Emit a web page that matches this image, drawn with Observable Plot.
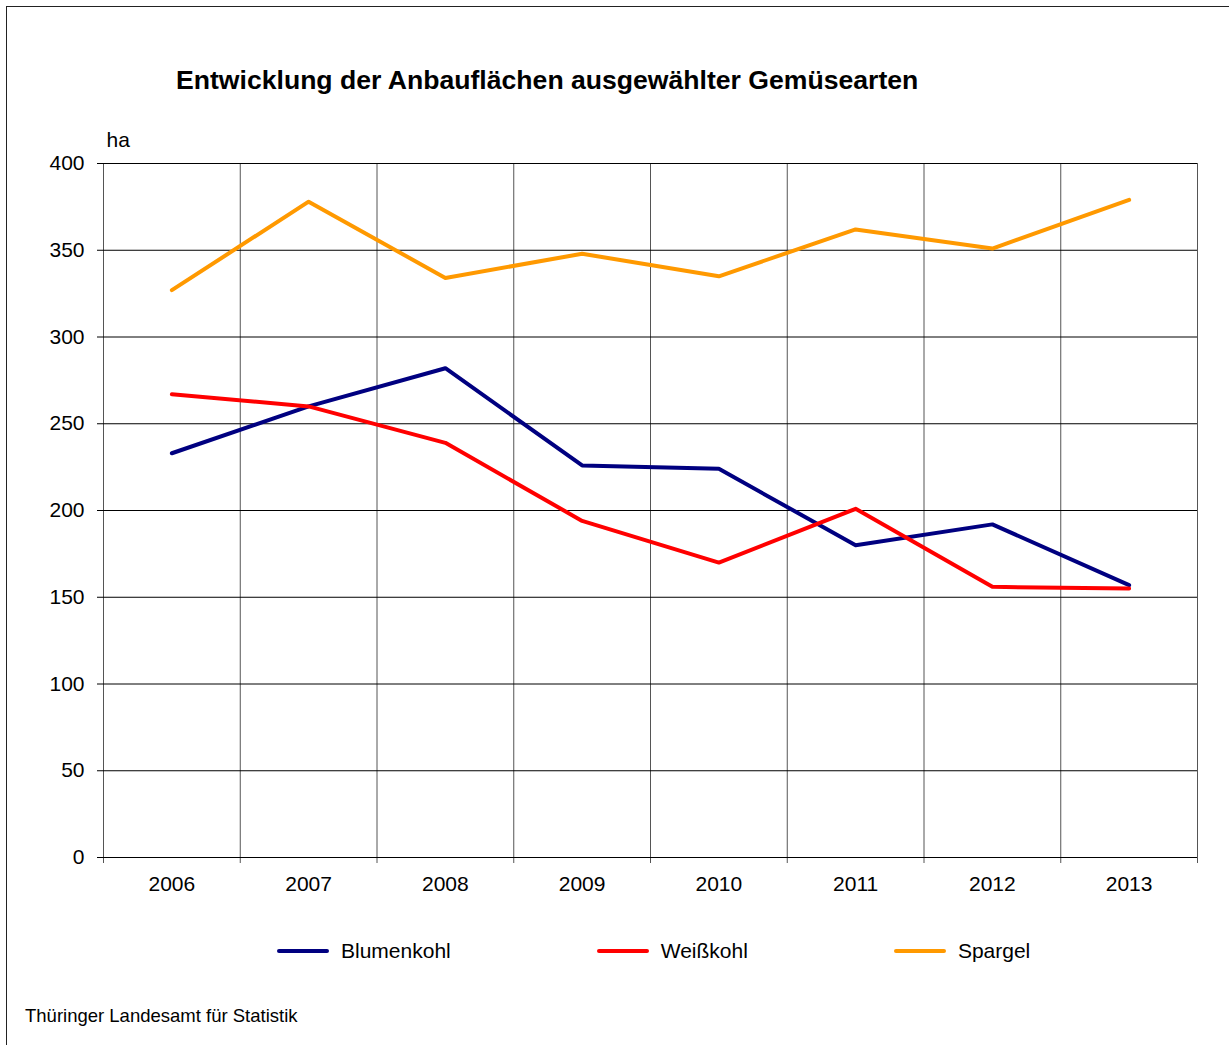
<!DOCTYPE html>
<html>
<head>
<meta charset="utf-8">
<script src="https://cdn.jsdelivr.net/npm/d3@7"></script>
<script src="https://cdn.jsdelivr.net/npm/@observablehq/plot@0.6"></script>
<style>
  html, body { margin: 0; padding: 0; background: #fff; }
  body { width: 1229px; height: 1045px; overflow: hidden; position: relative; font-family: "Liberation Sans", Arial, sans-serif; color: #000; }
  #frame { position: absolute; left: 6px; top: 6px; width: 1300px; height: 1100px; border: 1px solid #222; pointer-events: none; }
  #title { height: 110px; box-sizing: border-box; padding-top: 65px; padding-left: 176px; font-size: 26.6px; line-height: 30px; font-weight: bold; }
  #chart svg { display: block; }
  #legend { margin-top: 32px; padding-left: 277px; display: flex; align-items: center; gap: 146px; font-size: 21px; line-height: 24px; }
  #legend .item { display: flex; align-items: center; gap: 12px; }
  #legend svg { display: block; }
  #caption { position: absolute; left: 25px; top: 1006px; font-size: 18.5px; line-height: 20px; }
</style>
</head>
<body>
<div id="frame"></div>
<div id="title">Entwicklung der Anbauflächen ausgewählter Gemüsearten</div>
<div id="chart"></div>
<div id="legend"></div>
<div id="caption">Thüringer Landesamt für Statistik</div>
<script>
const years = [2006, 2007, 2008, 2009, 2010, 2011, 2012, 2013];
const blumenkohl = [233, 260, 282, 226, 224, 180, 192, 157];
const weisskohl = [267, 260, 239, 194, 170, 201, 156, 155];
const spargel = [327, 378, 334, 348, 335, 362, 351, 379];
const seriesNames = ["Blumenkohl", "Weißkohl", "Spargel"];
const seriesColors = ["#000080", "#FF0000", "#FF9900"];
const yTicks = [0, 50, 100, 150, 200, 250, 300, 350, 400];
const yUnit = "ha";

const seriesValues = [blumenkohl, weisskohl, spargel];
const data = [];
seriesNames.forEach((name, i) => {
  years.forEach((yr, j) => data.push({series: name, year: yr, value: seriesValues[i][j]}));
});
const boundaries = [years[0] - 0.5, ...years.map(y => y + 0.5)];

const chart = Plot.plot({
  width: 1229,
  height: 797,
  marginTop: 53,
  marginBottom: 50,
  marginLeft: 103,
  marginRight: 32,
  style: {fontFamily: "'Liberation Sans', Arial, sans-serif", fontSize: "21px", color: "#000", background: "transparent"},
  x: {type: "linear", domain: [years[0] - 0.5, years[years.length - 1] + 0.5]},
  y: {domain: [0, 400]},
  color: {domain: seriesNames, range: seriesColors},
  marks: [
    Plot.ruleX(boundaries, {stroke: "#555", strokeWidth: 1, insetBottom: -6}),
    Plot.ruleY(yTicks, {stroke: "#000", strokeWidth: 1}),
    Plot.axisY(yTicks, {tickSize: 6, tickPadding: 13, label: null, stroke: "#000"}),
    Plot.axisX(years, {tickSize: 0, tickPadding: 19, tickFormat: d => String(d), label: null}),
    Plot.line(data, {x: "year", y: "value", z: "series", stroke: "series", strokeWidth: 4, strokeLinejoin: "round", strokeLinecap: "round"}),
    Plot.text([yUnit], {text: d => d, frameAnchor: "top-left", textAnchor: "start", dx: 3, dy: -31, fontSize: 21})
  ]
});
document.getElementById("chart").appendChild(chart);

const legend = document.getElementById("legend");
seriesNames.forEach((name, i) => {
  const item = document.createElement("div");
  item.className = "item";
  item.innerHTML = `<svg width="52" height="8"><line x1="2" y1="4" x2="50" y2="4" stroke="${seriesColors[i]}" stroke-width="4" stroke-linecap="round"/></svg><span>${name}</span>`;
  legend.appendChild(item);
});
</script>
</body>
</html>
